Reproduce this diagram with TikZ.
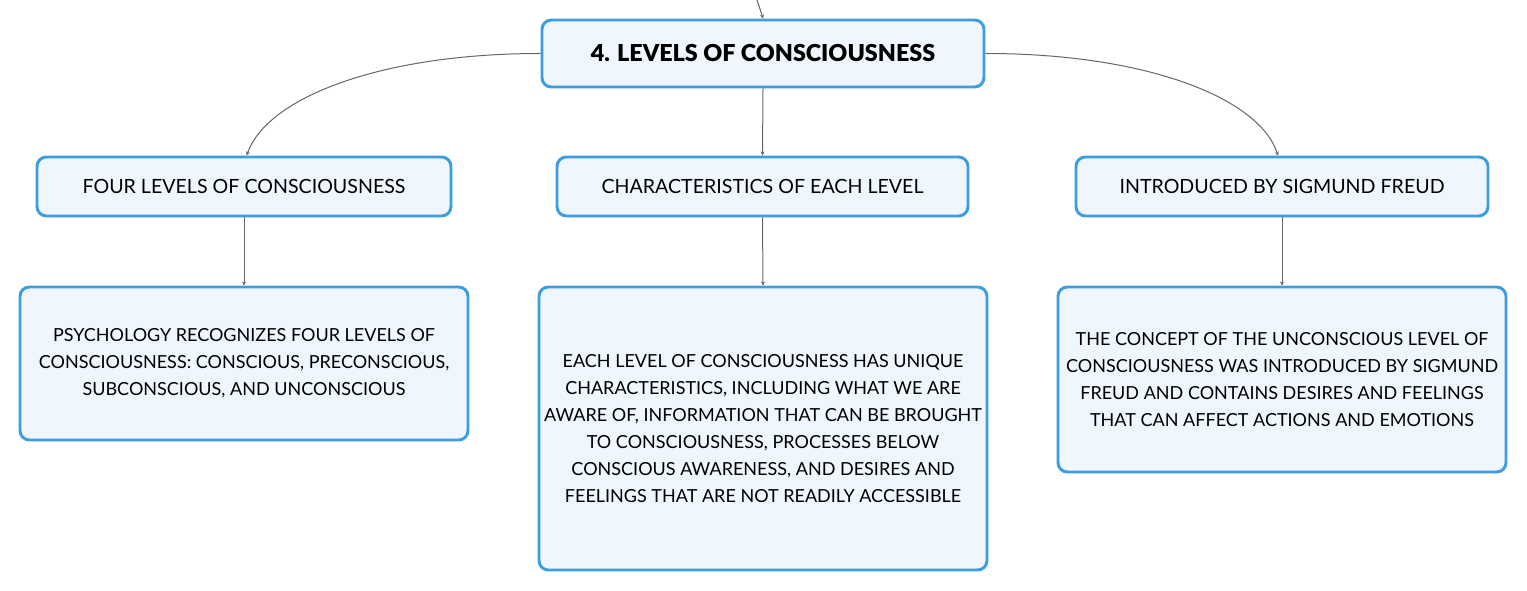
\documentclass[tikz,border=0pt]{standalone}
\usepackage{fontspec}
\setmainfont{Lato}
\newfontfamily\heavyfont{Lato Black}
\usetikzlibrary{arrows.meta}
\definecolor{boxborder}{HTML}{3C9DE0}
\definecolor{boxfill}{HTML}{EFF6FD}
\definecolor{linegray}{HTML}{666666}
\tikzset{
  box/.style={draw=boxborder, line width=2.2pt, fill=boxfill, rounded corners=7pt, align=center, inner sep=0pt, font=\fontsize{13.5pt}{20.25pt}\selectfont},
  headbox/.style={box, font=\fontsize{14.7pt}{20.25pt}\selectfont},
  conn/.style={draw=linegray, line width=0.75pt, -{Stealth[length=3pt,width=3pt]}},
}
\begin{document}
\begin{tikzpicture}[x=0.75pt,y=-0.75pt]
\useasboundingbox (0,0) rectangle (1527,591);
\node[box, minimum width=442*0.75pt, minimum height=67*0.75pt, font=\fontsize{17.5pt}{20pt}\heavyfont] (t) at (763,53.5) {4. LEVELS OF CONSCIOUSNESS};
\node[headbox, minimum width=414*0.75pt, minimum height=59*0.75pt] (b1) at (244,186.5) {FOUR LEVELS OF CONSCIOUSNESS};
\node[headbox, minimum width=411*0.75pt, minimum height=59*0.75pt] (b2) at (762.5,186.5) {CHARACTERISTICS OF EACH LEVEL};
\node[headbox, minimum width=412*0.75pt, minimum height=59*0.75pt] (b3) at (1282,186.5) {INTRODUCED BY SIGMUND FREUD};
\node[box, minimum width=448*0.75pt, minimum height=153*0.75pt] (c1) at (244,363.5) {PSYCHOLOGY RECOGNIZES FOUR LEVELS OF\\CONSCIOUSNESS: CONSCIOUS, PRECONSCIOUS,\\SUBCONSCIOUS, AND UNCONSCIOUS};
\node[box, minimum width=448*0.75pt, minimum height=283*0.75pt] (c2) at (763,428.5) {EACH LEVEL OF CONSCIOUSNESS HAS UNIQUE\\CHARACTERISTICS, INCLUDING WHAT WE ARE\\AWARE OF, INFORMATION THAT CAN BE BROUGHT\\TO CONSCIOUSNESS, PROCESSES BELOW\\CONSCIOUS AWARENESS, AND DESIRES AND\\FEELINGS THAT ARE NOT READILY ACCESSIBLE};
\node[box, minimum width=448*0.75pt, minimum height=185*0.75pt] (c3) at (1282,379.5) {THE CONCEPT OF THE UNCONSCIOUS LEVEL OF\\CONSCIOUSNESS WAS INTRODUCED BY SIGMUND\\FREUD AND CONTAINS DESIRES AND FEELINGS\\THAT CAN AFFECT ACTIONS AND EMOTIONS};
\coordinate (top) at (757,0);
\draw[conn] (top) .. controls (760,8) .. (t.north);
\draw[conn] (t.west) .. controls ([xshift=-121pt]t.west) and ([xshift=17pt,yshift=43pt]b1.north) .. ([xshift=2pt]b1.north);
\draw[conn] (t.east) .. controls ([xshift=121pt]t.east) and ([xshift=-17pt,yshift=43pt]b3.north) .. ([xshift=-3pt]b3.north);
\draw[conn] (t.south) -- (b2.north);
\draw[conn] (b1.south) -- (c1.north);
\draw[conn] (b2.south) -- (c2.north);
\draw[conn] (b3.south) -- (c3.north);
\end{tikzpicture}
\end{document}
